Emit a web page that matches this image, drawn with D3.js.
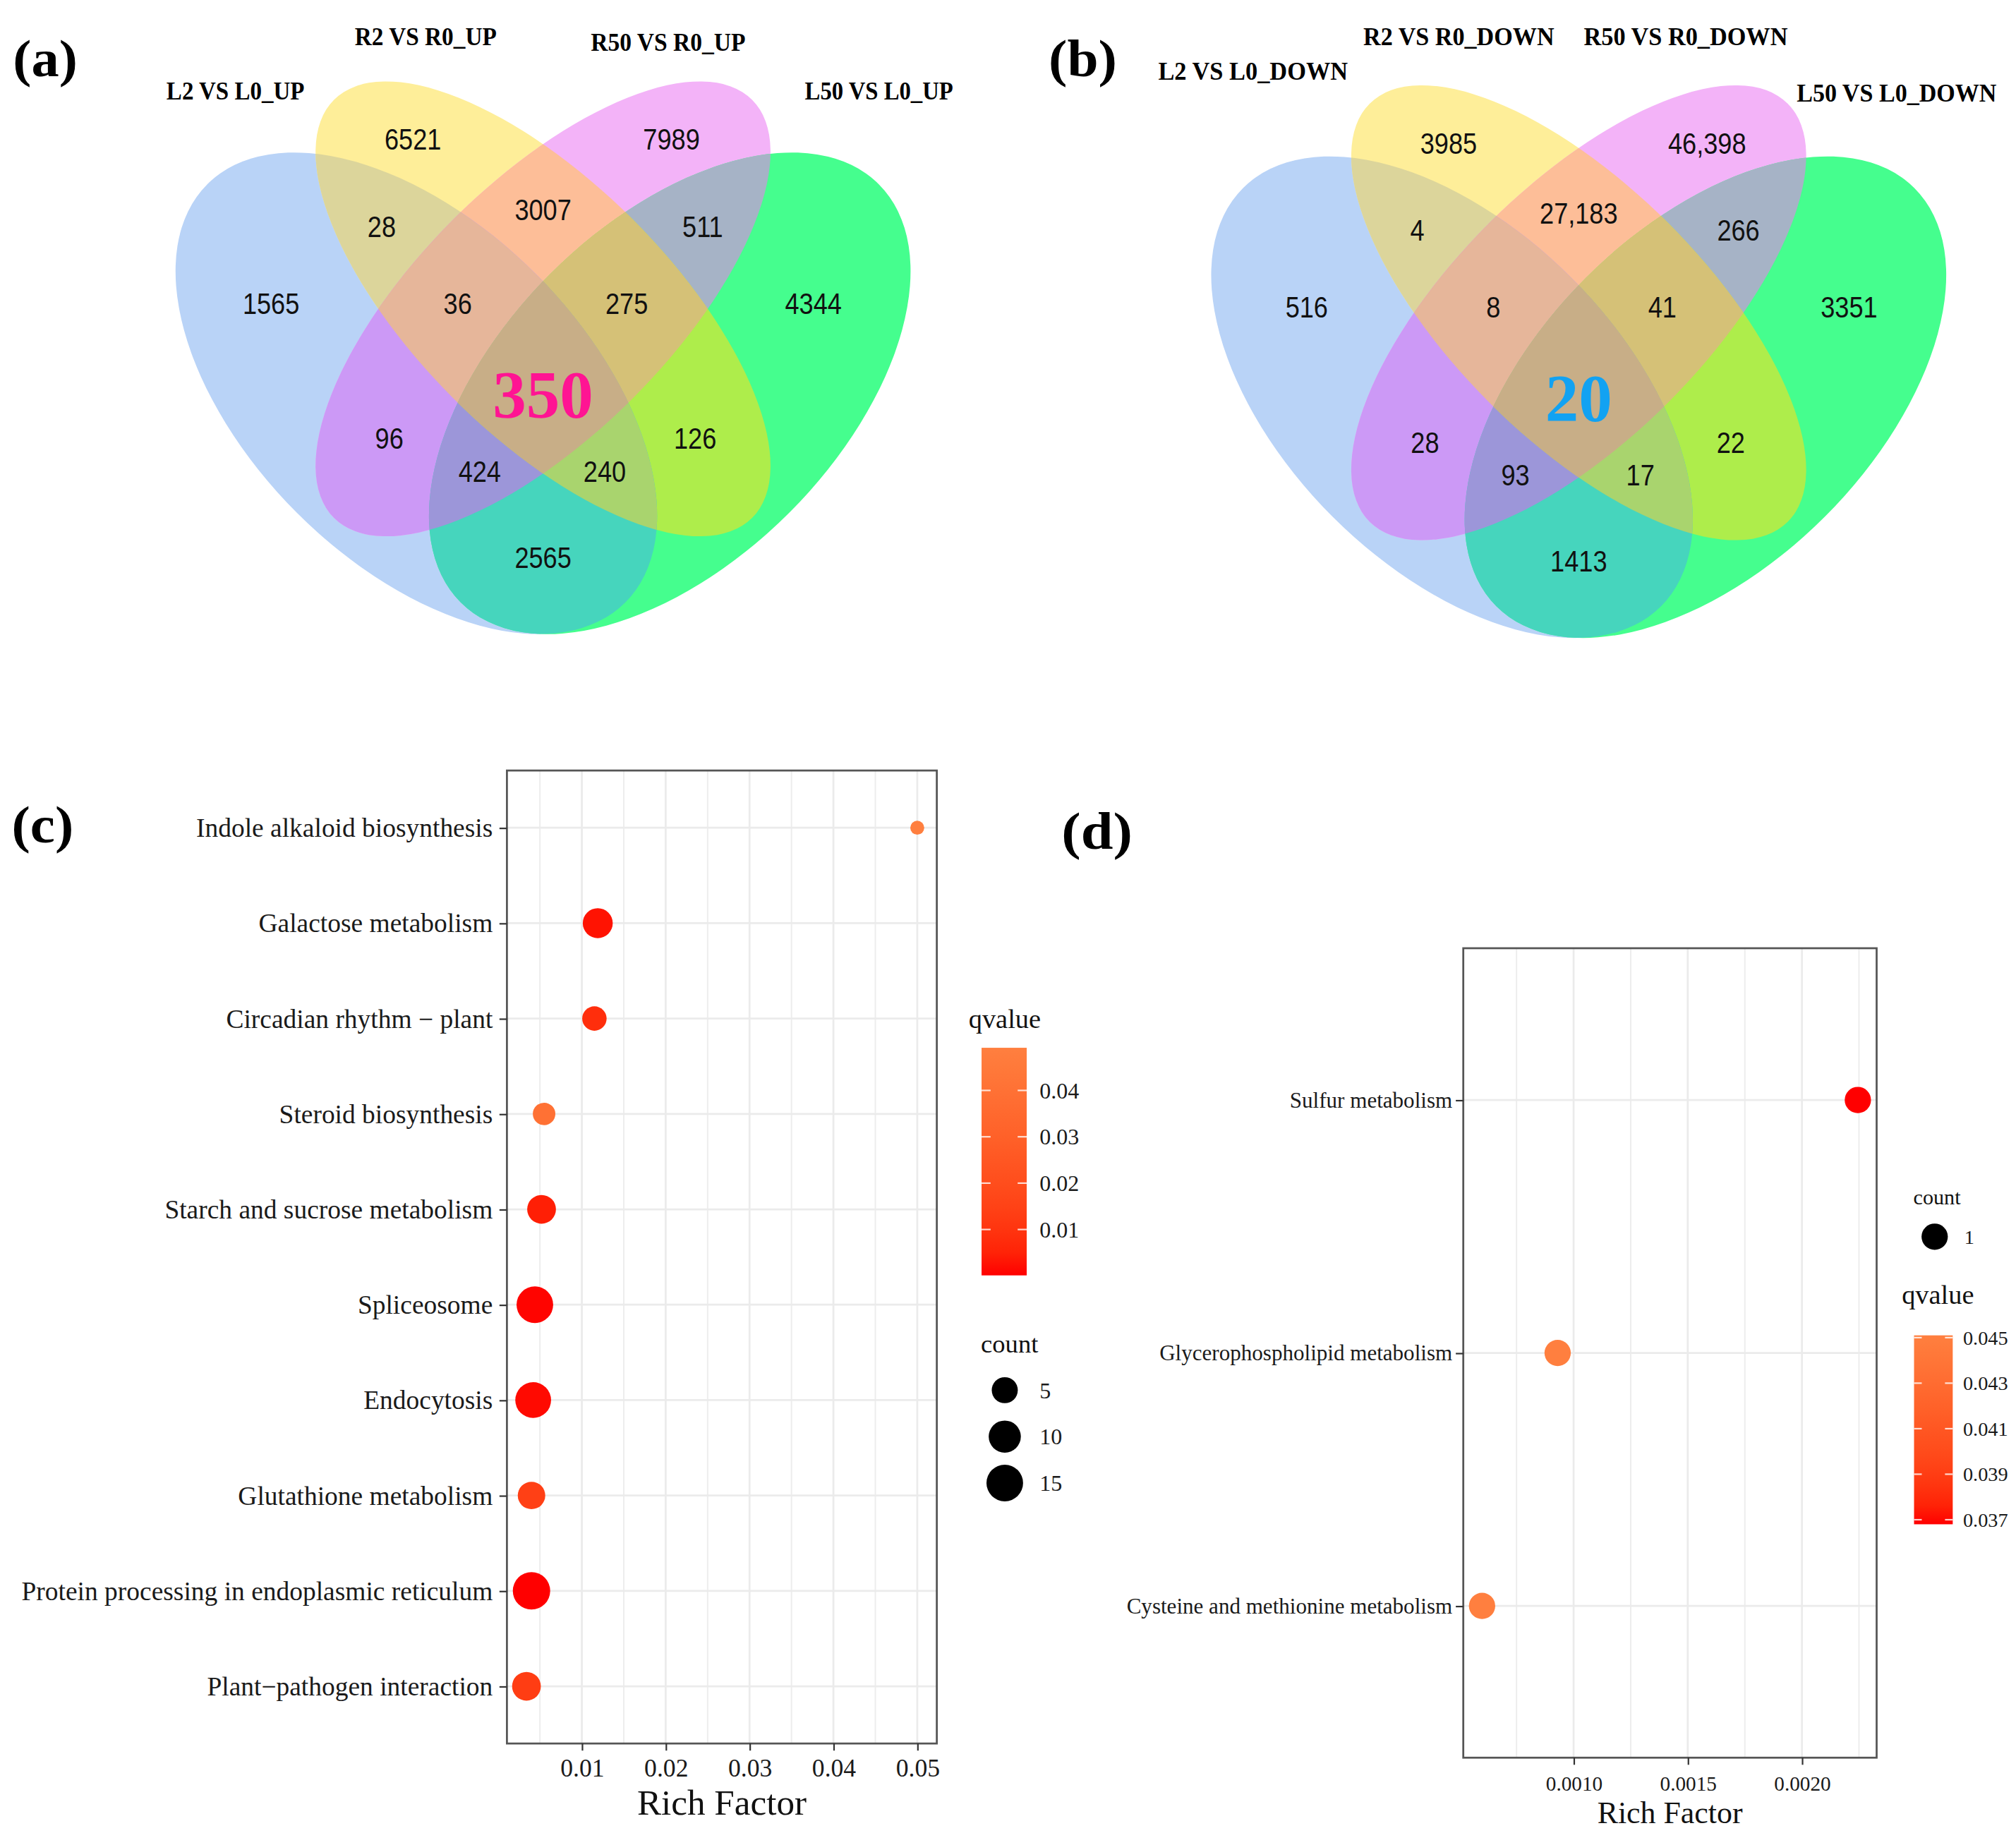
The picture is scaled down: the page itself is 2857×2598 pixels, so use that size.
<!DOCTYPE html>
<html>
<head>
<meta charset="utf-8">
<title>Venn diagrams and KEGG enrichment</title>
<script src="https://cdn.jsdelivr.net/npm/d3@7"></script>
<style>
  body { margin: 0; background: #fff; }
  svg { display: block; }
</style>
</head>
<body>
<svg id="fig" width="2857" height="2598" viewBox="0 0 1563 1421.4"></svg>
<script>
// ---------- data ----------
// venn sets, ellipse order: L2 (blue), R2 (yellow), R50 (purple), L50 (green)
var setsUp = ["L2 VS L0_UP", "R2 VS R0_UP", "R50 VS R0_UP", "L50 VS L0_UP"];
var setsDown = ["L2 VS L0_DOWN", "R2 VS R0_DOWN", "R50 VS R0_DOWN", "L50 VS L0_DOWN"];
// region key = bit mask of the sets it belongs to (1 L2, 2 R2, 4 R50, 8 L50)
var regionKeys = [1, 2, 4, 8, 3, 6, 12, 5, 10, 9, 7, 14, 13, 11, 15];
var countsUp   = [1565, 6521, 7989, 4344, 28, 3007, 511, 96, 126, 2565, 36, 275, 424, 240, 350];
var countsDown = [516, 3985, 46398, 3351, 4, 27183, 266, 28, 22, 1413, 8, 41, 93, 17, 20];

// KEGG enrichment, up
var upTerms = ["Indole alkaloid biosynthesis", "Galactose metabolism", "Circadian rhythm \u2212 plant",
  "Steroid biosynthesis", "Starch and sucrose metabolism", "Spliceosome", "Endocytosis",
  "Glutathione metabolism", "Protein processing in endoplasmic reticulum", "Plant\u2212pathogen interaction"];
var upRich  = [0.0500, 0.0119, 0.0115, 0.0055, 0.0052, 0.0044, 0.0042, 0.0040, 0.0040, 0.0034];
var upCount = [1, 8, 4, 3, 7, 15, 14, 6, 16, 7];
var upQ     = [0.0492, 0.002, 0.008, 0.040, 0.004, 0.0005, 0.001, 0.014, 0.0001, 0.013];
var upCountKeys = [5, 10, 15];
var upQTicks = [0.01, 0.02, 0.03, 0.04];

// KEGG enrichment, down
var downTerms = ["Sulfur metabolism", "Glycerophospholipid metabolism", "Cysteine and methionine metabolism"];
var downRich  = [0.002245, 0.000930, 0.000599];
var downCount = [1, 1, 1];
var downQ     = [0.0368, 0.0451, 0.0451];
var downCountKeys = [1];
var downQTicks = [0.037, 0.039, 0.041, 0.043, 0.045];

// ---------- layout ----------
var svg = d3.select("#fig");
var defs = svg.append("defs");
var SERIF = "'Liberation Serif', 'Times New Roman', serif";
var SANS = "'Liberation Sans', Arial, sans-serif";

var U = 655; // px per venn unit
var vennShapes = [
  {cx: 0.35, cy: 0.47, a: 0.35, b: 0.20, rot: 45},
  {cx: 0.50, cy: 0.57, a: 0.35, b: 0.15, rot: 45},
  {cx: 0.50, cy: 0.57, a: 0.35, b: 0.15, rot: -45},
  {cx: 0.65, cy: 0.47, a: 0.35, b: 0.20, rot: -45}
];
var regionFill = {1: "#B9D3F7", 2: "#FEEE99", 4: "#F3B3F8", 8: "#45FE8E",
  3: "#DCD59B", 6: "#FDBE98", 12: "#A6B3C6", 5: "#CC99F6", 10: "#AEED4B", 9: "#46D5BD",
  7: "#E6B69A", 14: "#D5C177", 13: "#9C96D9", 11: "#A9D46E", 15: "#C8AE87"};
var regionPos = {1: [0.178, 0.577], 2: [0.346, 0.771], 4: [0.652, 0.771], 8: [0.820, 0.577],
  3: [0.309, 0.668], 6: [0.5, 0.688], 12: [0.689, 0.668], 5: [0.318, 0.417], 10: [0.680, 0.417],
  9: [0.5, 0.276], 7: [0.399, 0.577], 14: [0.599, 0.577], 13: [0.425, 0.378], 11: [0.573, 0.378],
  15: [0.5, 0.47]};

function bits(k) { var n = 0; while (k) { n += k & 1; k >>= 1; } return n; }
function fmtCount(n) { return n >= 10000 ? d3.format(",")(n) : String(n); }

function drawVenn(id, cx, cy, sets, counts, nameBox, centerColor) {
  var x = d3.scaleLinear().domain([0, 1]).range([cx - 0.5 * U, cx + 0.5 * U]);
  var y = d3.scaleLinear().domain([0, 1]).range([cy + 0.47 * U, cy - 0.53 * U]);

  vennShapes.forEach(function (e, i) {
    defs.append("clipPath").attr("id", id + "e" + i)
      .append("ellipse")
      .attr("cx", x(e.cx)).attr("cy", y(e.cy))
      .attr("rx", e.a * U).attr("ry", e.b * U)
      .attr("transform", "rotate(" + e.rot + "," + x(e.cx) + "," + y(e.cy) + ")");
  });

  // paint each intersection, smallest sets first, so every region ends with its own colour
  var g = svg.append("g");
  var order = regionKeys.slice().sort(function (p, q) { return bits(p) - bits(q); });
  order.forEach(function (k) {
    var inner = g;
    for (var i = 0; i < 4; i++) {
      if (k & (1 << i)) inner = inner.append("g").attr("clip-path", "url(#" + id + "e" + i + ")");
    }
    inner.append("rect")
      .attr("x", x(0)).attr("y", y(1))
      .attr("width", x(1) - x(0)).attr("height", y(0) - y(1))
      .attr("fill", regionFill[k]);
  });

  svg.append("g").selectAll("text").data(regionKeys).join("text")
    .attr("transform", function (k) {
      var s = k === 15 ? "" : " scale(0.86,1)";
      return "translate(" + x(regionPos[k][0]) + "," + y(regionPos[k][1]) + ")" + s;
    })
    .attr("text-anchor", "middle")
    .attr("dy", "0.36em")
    .attr("font-family", function (k) { return k === 15 ? SERIF : SANS; })
    .attr("font-weight", function (k) { return k === 15 ? "bold" : "normal"; })
    .attr("font-size", function (k) { return k === 15 ? 52 : 23; })
    .attr("fill", function (k) { return k === 15 ? centerColor : "#111"; })
    .text(function (k, i) { return fmtCount(counts[i]); });

  svg.append("g").selectAll("text").data(sets).join("text")
    .attr("x", function (d, i) { return nameBox[i][0]; })
    .attr("y", function (d, i) { return nameBox[i][2]; })
    .attr("textLength", function (d, i) { return nameBox[i][1] - nameBox[i][0]; })
    .attr("lengthAdjust", "spacingAndGlyphs")
    .attr("font-family", SERIF).attr("font-weight", "bold").attr("font-size", 19.5)
    .text(function (d) { return d; });
}

drawVenn("va", 421, 305, setsUp, countsUp,
  [[129, 236, 77], [275, 385, 35], [458, 578, 39.5], [624, 739, 77]], "#FF1493");
drawVenn("vb", 1224, 308, setsDown, countsDown,
  [[898, 1045, 62], [1057, 1205, 35], [1228, 1386, 35], [1393, 1548, 79]], "#12A2F2");

// panel letters
var letters = [["(a)", 10, 59, 50], ["(b)", 813, 59, 53], ["(c)", 9, 653, 48], ["(d)", 823, 658, 55]];
svg.append("g").selectAll("text").data(letters).join("text")
  .attr("x", function (d) { return d[1]; }).attr("y", function (d) { return d[2]; })
  .attr("textLength", function (d) { return d[3]; }).attr("lengthAdjust", "spacingAndGlyphs")
  .attr("font-family", SERIF).attr("font-weight", "bold").attr("font-size", 40)
  .text(function (d) { return d[0]; });

// ---------- dot plots ----------
var qLow = "#FF0000", qHigh = "#FF7F3F";

function dotPanel(o) {
  var g = svg.append("g");
  var ext = d3.extent(o.rich), pad = (ext[1] - ext[0]) * 0.05;
  var x = d3.scaleLinear().domain([ext[0] - pad, ext[1] + pad]).range([o.left, o.right]);
  var y = d3.scalePoint().domain(o.terms).range([o.top, o.bottom]).padding(0.6);
  var qExt = d3.extent(o.q);
  var col = d3.scaleLinear().domain(qExt).range([qLow, qHigh]).interpolate(d3.interpolateLab);
  var cExt = d3.extent(o.count);
  var rs = d3.scaleSqrt().domain([0, cExt[1] - cExt[0]]).range(o.rRange);
  var r = function (c) { return cExt[1] === cExt[0] ? o.rSingle : rs(c - cExt[0]); };

  var major = x.ticks(5), step = major[1] - major[0], minor = [];
  var dom = x.domain();
  for (var v = major[0] - step / 2; v <= dom[1]; v += step) if (v >= dom[0]) minor.push(v);

  g.append("rect").attr("x", o.left).attr("y", o.top)
    .attr("width", o.right - o.left).attr("height", o.bottom - o.top).attr("fill", "#fff");
  g.append("g").selectAll("line").data(minor).join("line")
    .attr("x1", function (d) { return x(d); }).attr("x2", function (d) { return x(d); })
    .attr("y1", o.top).attr("y2", o.bottom)
    .attr("stroke", "#EDEDED").attr("stroke-width", 1.1);
  g.append("g").selectAll("line").data(major).join("line")
    .attr("x1", function (d) { return x(d); }).attr("x2", function (d) { return x(d); })
    .attr("y1", o.top).attr("y2", o.bottom)
    .attr("stroke", "#EBEBEB").attr("stroke-width", 1.5);
  g.append("g").selectAll("line").data(o.terms).join("line")
    .attr("x1", o.left).attr("x2", o.right)
    .attr("y1", function (d) { return y(d); }).attr("y2", function (d) { return y(d); })
    .attr("stroke", "#EBEBEB").attr("stroke-width", 1.5);

  g.append("g").selectAll("circle").data(o.terms).join("circle")
    .attr("cx", function (d, i) { return x(o.rich[i]); })
    .attr("cy", function (d) { return y(d); })
    .attr("r", function (d, i) { return r(o.count[i]); })
    .attr("fill", function (d, i) { return col(o.q[i]); });

  g.append("rect").attr("x", o.left).attr("y", o.top)
    .attr("width", o.right - o.left).attr("height", o.bottom - o.top)
    .attr("fill", "none").attr("stroke", "#555").attr("stroke-width", 1.5);

  var ax = g.append("g").attr("transform", "translate(0," + o.bottom + ")")
    .call(d3.axisBottom(x).tickValues(major).tickFormat(d3.format(o.xFmt))
      .tickSize(5.5).tickPadding(o.xPad));
  var ay = g.append("g").attr("transform", "translate(" + o.left + ",0)")
    .call(d3.axisLeft(y).tickSize(5.8).tickPadding(o.yPad));
  [ax, ay].forEach(function (a) {
    a.select(".domain").remove();
    a.selectAll(".tick line").attr("stroke", "#333").attr("stroke-width", 1.2);
    a.selectAll("text").attr("font-family", SERIF).attr("fill", "#1a1a1a");
  });
  ax.selectAll("text").attr("font-size", o.xFont);
  ay.selectAll("text").attr("font-size", o.yFont);

  g.append("text").attr("x", (o.left + o.right) / 2).attr("y", o.titleY)
    .attr("text-anchor", "middle").attr("font-family", SERIF).attr("font-size", o.titleFont)
    .attr("fill", "#111").text("Rich Factor");

  // qvalue colour bar
  var cb = o.cbar;
  var gid = "grad" + o.id;
  var grad = defs.append("linearGradient").attr("id", gid)
    .attr("x1", 0).attr("y1", 1).attr("x2", 0).attr("y2", 0);
  d3.range(0, 1.0001, 0.1).forEach(function (t) {
    grad.append("stop").attr("offset", t).attr("stop-color", col(qExt[0] + t * (qExt[1] - qExt[0])));
  });
  var qy = d3.scaleLinear().domain(qExt).range([cb.y1, cb.y0]);
  var lg = svg.append("g");
  lg.append("text").attr("x", cb.titleX).attr("y", cb.titleY)
    .attr("font-family", SERIF).attr("font-size", cb.titleFont).attr("fill", "#111").text("qvalue");
  lg.append("rect").attr("x", cb.x).attr("y", cb.y0).attr("width", cb.w).attr("height", cb.y1 - cb.y0)
    .attr("fill", "url(#" + gid + ")");
  var tk = lg.append("g").selectAll("g").data(o.qTicks).join("g");
  tk.append("line").attr("x1", cb.x).attr("x2", cb.x + cb.w * 0.2)
    .attr("y1", function (d) { return qy(d); }).attr("y2", function (d) { return qy(d); })
    .attr("stroke", "#fff").attr("stroke-width", 1.2).attr("opacity", 0.8);
  tk.append("line").attr("x1", cb.x + cb.w * 0.8).attr("x2", cb.x + cb.w)
    .attr("y1", function (d) { return qy(d); }).attr("y2", function (d) { return qy(d); })
    .attr("stroke", "#fff").attr("stroke-width", 1.2).attr("opacity", 0.8);
  tk.append("text").attr("x", cb.x + cb.w + cb.labGap).attr("y", function (d) { return qy(d); })
    .attr("dy", "0.35em").attr("font-family", SERIF).attr("font-size", cb.labFont).attr("fill", "#1a1a1a")
    .text(function (d) { return d3.format(o.qFmt)(d); });

  // count legend
  var cl = o.clegend;
  var sg = svg.append("g");
  sg.append("text").attr("x", cl.titleX).attr("y", cl.titleY)
    .attr("font-family", SERIF).attr("font-size", cl.titleFont).attr("fill", "#111").text("count");
  var kk = sg.append("g").selectAll("g").data(o.countKeys).join("g")
    .attr("transform", function (d, i) { return "translate(0," + (cl.y0 + i * cl.dy) + ")"; });
  kk.append("circle").attr("cx", cl.x).attr("cy", 0).attr("r", function (d) { return r(d); }).attr("fill", "#000");
  kk.append("text").attr("x", cl.labX).attr("y", 0).attr("dy", "0.35em")
    .attr("font-family", SERIF).attr("font-size", cl.labFont).attr("fill", "#1a1a1a")
    .text(function (d) { return d; });
}

dotPanel({
  id: "c", terms: upTerms, rich: upRich, count: upCount, q: upQ,
  countKeys: upCountKeys, qTicks: upQTicks,
  left: 393, right: 726.3, top: 597.5, bottom: 1352,
  rRange: [5.4, 14.5], rSingle: 10,
  xFmt: ".2f", qFmt: ".2f", xPad: 6.5, yPad: 5.2, xFont: 19.5, yFont: 20.5, titleFont: 28, titleY: 1407,
  cbar: {x: 761, w: 35, y0: 812.5, y1: 989, titleX: 751, titleY: 797, titleFont: 21, labGap: 10, labFont: 17.5},
  clegend: {titleX: 760.5, titleY: 1049, titleFont: 20, x: 779, y0: 1078, dy: 36, labX: 806, labFont: 17.5}
});

dotPanel({
  id: "d", terms: downTerms, rich: downRich, count: downCount, q: downQ,
  countKeys: downCountKeys, qTicks: downQTicks,
  left: 1134.5, right: 1455, top: 735.3, bottom: 1363,
  rRange: [5.4, 15], rSingle: 10.2,
  xFmt: ".4f", qFmt: ".3f", xPad: 8.5, yPad: 2.7, xFont: 16, yFont: 17, titleFont: 24, titleY: 1414,
  cbar: {x: 1484, w: 30, y0: 1035.5, y1: 1182, titleX: 1474.5, titleY: 1011, titleFont: 21, labGap: 8, labFont: 15.5},
  clegend: {titleX: 1483.5, titleY: 934, titleFont: 16.5, x: 1500, y0: 959, dy: 30, labX: 1523, labFont: 15.5}
});
</script>
</body>
</html>
